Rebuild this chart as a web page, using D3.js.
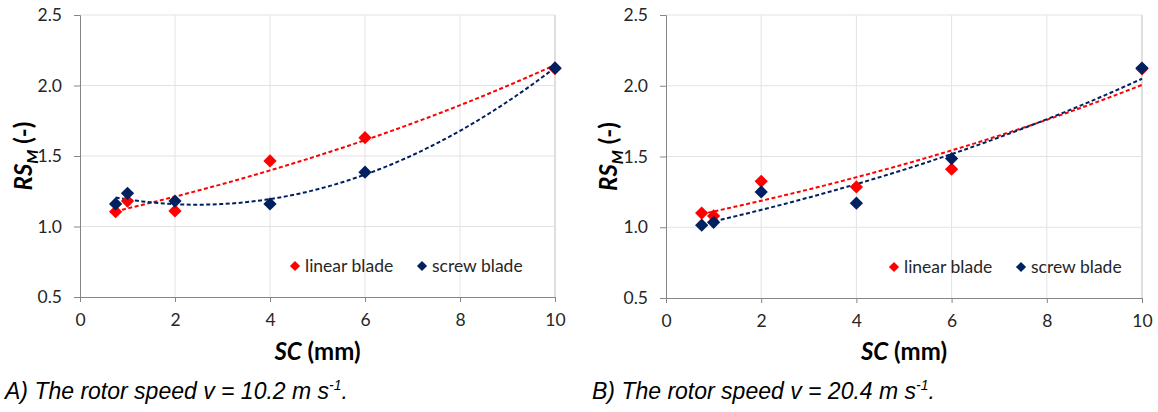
<!DOCTYPE html>
<html><head><meta charset="utf-8">
<script src="https://cdn.jsdelivr.net/npm/d3@7"></script>
<style>body{margin:0;background:#fff} svg{display:block}</style>
</head><body><svg id="c" width="1158" height="412"></svg>
<script>
// ---- data ----
const xTicks = [0, 2, 4, 6, 8, 10];
const yTicks = [0.5, 1.0, 1.5, 2.0, 2.5];
const scA = [0.75, 1, 2, 4, 6, 10];
const linearA = [1.105, 1.18, 1.11, 1.465, 1.63, 2.12];
const screwA = [1.16, 1.235, 1.18, 1.16, 1.385, 2.125];
const scB = [0.75, 1, 2, 4, 6, 10];
const linearB = [1.10, 1.08, 1.325, 1.285, 1.41, 2.12];
const screwB = [1.015, 1.035, 1.25, 1.17, 1.485, 2.125];
const seriesNames = ["linear blade", "screw blade"];
const captionsMain = ["A) The rotor speed v = 10.2 m s", "B) The rotor speed v = 20.4 m s"];
const trendA = ["exp", "poly2"];
const trendB = ["exp", "exp"];

const RED = "#ff0000", NAVY = "#002060";

function expFit(xs, ys) {
  const n = xs.length, ly = ys.map(Math.log);
  const mx = d3.mean(xs), my = d3.mean(ly);
  let sxy = 0, sxx = 0;
  for (let i = 0; i < n; i++) { sxy += (xs[i]-mx)*(ly[i]-my); sxx += (xs[i]-mx)**2; }
  const b = sxy/sxx, a = my - b*mx;
  return x => Math.exp(a + b*x);
}
function poly2Fit(xs, ys) {
  const S = k => d3.sum(xs, x => x**k);
  const T = k => d3.sum(xs.map((x,i)=>ys[i]*x**k));
  const A = [[S(0),S(1),S(2),T(0)],[S(1),S(2),S(3),T(1)],[S(2),S(3),S(4),T(2)]];
  for (let i=0;i<3;i++){ for(let j=i+1;j<3;j++){ const f=A[j][i]/A[i][i]; for(let k=i;k<4;k++) A[j][k]-=f*A[i][k]; } }
  const c=[0,0,0];
  for (let i=2;i>=0;i--){ let s=A[i][3]; for(let k=i+1;k<3;k++) s-=A[i][k]*c[k]; c[i]=s/A[i][i]; }
  return x => c[0]+c[1]*x+c[2]*x*x;
}
const fitters = {exp: expFit, poly2: poly2Fit};

const svg = d3.select("#c");
const TICKFONT = "Lato, 'Open Sans', sans-serif";

function panel(cfg) {
  const x = d3.scaleLinear().domain([0, 10]).range([cfg.x0, cfg.x1]);
  const y = d3.scaleLinear().domain([0.5, 2.5]).range([cfg.y0, cfg.y1]);
  const g = svg.append("g");
  // grid
  g.selectAll(".gx").data(xTicks.slice(1)).join("line")
    .attr("x1", d => x(d)).attr("x2", d => x(d)).attr("y1", y(0.5)).attr("y2", y(2.5))
    .attr("stroke", d => d === 10 ? "#bfbfbf" : "#e3e3e3").attr("stroke-width", 1);
  g.selectAll(".gy").data(yTicks.slice(1)).join("line")
    .attr("x1", x(0)).attr("x2", x(10)).attr("y1", d => y(d)).attr("y2", d => y(d))
    .attr("stroke", "#e3e3e3").attr("stroke-width", 1);
  // axes
  const ax = d3.axisBottom(x).tickValues(xTicks).tickSize(5).tickPadding(8).tickFormat(d3.format("d"));
  const ay = d3.axisLeft(y).tickValues(yTicks).tickSize(6).tickPadding(12).tickFormat(d3.format(".1f"));
  const gx = g.append("g").attr("transform", `translate(0,${y(0.5)})`).call(ax);
  const gy = g.append("g").attr("transform", `translate(${x(0)},0)`).call(ay);
  [gx, gy].forEach(a => {
    a.select(".domain").attr("stroke", "#868686");
    a.selectAll(".tick line").attr("stroke", "#868686");
    a.selectAll("text").attr("fill", "#262626").style("font-family", TICKFONT).style("font-size", "17.5px");
  });
  gx.selectAll("text").attr("dy", "0.9em");
  // trendlines
  const series = [{xs: cfg.xs, ys: cfg.lin, color: RED, t: cfg.trend[0]}, {xs: cfg.xs, ys: cfg.scr, color: NAVY, t: cfg.trend[1]}];
  const line = d3.line().x(d => x(d[0])).y(d => y(d[1]));
  series.forEach(s => {
    const f = fitters[s.t](s.xs, s.ys);
    const lo = d3.min(s.xs), hi = d3.max(s.xs);
    const pts = d3.range(0, 101).map(i => { const xv = lo + (hi-lo)*i/100; return [xv, f(xv)]; });
    g.append("path").attr("d", line(pts)).attr("fill", "none").attr("stroke", s.color)
      .attr("stroke-width", 2).attr("stroke-dasharray", "4,2.5");
  });
  // markers
  const diamond = d3.symbol(d3.symbolSquare, 88);
  series.forEach(s => {
    g.selectAll(null).data(s.xs.map((v, i) => [v, s.ys[i]])).join("path")
      .attr("d", diamond).attr("fill", s.color)
      .attr("transform", d => `translate(${x(d[0])},${y(d[1])}) rotate(45)`);
  });
  // legend
  const lg = d3.symbol(d3.symbolSquare, 52);
  const items = [{name: seriesNames[0], color: RED, dx: cfg.leg[0]}, {name: seriesNames[1], color: NAVY, dx: cfg.leg[1]}];
  items.forEach(it => {
    g.append("path").attr("d", lg).attr("fill", it.color)
      .attr("transform", `translate(${it.dx},${cfg.legY}) rotate(45)`);
    g.append("text").attr("x", it.dx + 10).attr("y", cfg.legY).attr("dy", "0.35em")
      .attr("fill", "#262626").style("font-family", TICKFONT).style("font-size", "17.5px").text(it.name);
  });
  // y title
  const yt = g.append("text").attr("transform", `translate(${cfg.ytx},${(cfg.y0+cfg.y1)/2}) rotate(-90)`)
    .attr("text-anchor", "middle").attr("fill", "#000")
    .style("font-family", TICKFONT).style("font-size", "24px").style("font-weight", "bold");
  yt.append("tspan").style("font-style", "italic").text("RS");
  yt.append("tspan").style("font-style", "italic").style("font-size", "16px").attr("dy", "6").text("M");
  yt.append("tspan").attr("dy", "-6").text(" (-)");
  // x title
  const xt = g.append("text").attr("x", (cfg.x0+cfg.x1)/2).attr("y", 360).attr("text-anchor", "middle")
    .attr("fill", "#000").style("font-family", TICKFONT).style("font-size", "24px").style("font-weight", "bold");
  xt.append("tspan").style("font-style", "italic").text("SC");
  xt.append("tspan").text(" (mm)");
  // caption
  const ct = svg.append("text").attr("x", cfg.capX).attr("y", 399).attr("fill", "#000")
    .style("font-family", "'Liberation Sans', Arial, sans-serif").style("font-size", "23px").style("font-style", "italic");
  ct.append("tspan").text(cfg.caption);
  ct.append("tspan").attr("dy", "-9").style("font-size", "14px").text("-1");
  ct.append("tspan").attr("dy", "9").text(".");
}

panel({x0: 80, x1: 555, y0: 297, y1: 15, xs: scA, lin: linearA, scr: screwA, trend: trendA,
  leg: [295, 422], legY: 266, ytx: 32, capX: 5, caption: captionsMain[0]});
panel({x0: 666, x1: 1142, y0: 298, y1: 15, xs: scB, lin: linearB, scr: screwB, trend: trendB,
  leg: [894, 1021], legY: 267, ytx: 617, capX: 592, caption: captionsMain[1]});
</script></body></html>
